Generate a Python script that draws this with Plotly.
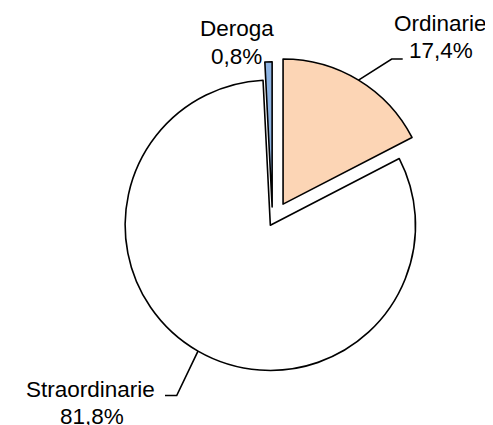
import math
import plotly.graph_objects as go

labels = ["Ordinarie", "Straordinarie", "Deroga"]
values = [17.4, 81.8, 0.8]
colors = ["#FCD5B5", "#FFFFFF", "#8EB4E3"]
pulls = [0.14, 0.03, 0.10]

# page body has an 8px margin: size the figure to fit the 493x425 window
OFF = 8
W, H = 493 - OFF, 425 - OFF
ML, MT, MR, MB = 99, 48, 55, 38
PW, PH = W - ML - MR, H - MT - MB


def px(x):  # screenshot pixel -> paper
    return (x - OFF - ML) / PW


def py(y):
    return 1 - (y - OFF - MT) / PH


fig = go.Figure(go.Pie(
    labels=labels, values=values, sort=False, direction="clockwise", rotation=0,
    pull=pulls, textinfo="none", hoverinfo="label+percent",
    marker=dict(colors=colors, line=dict(color="#000000", width=1.6)),
))

# pie geometry (as plotly computes it) for attaching leader lines to slice mid-arcs
R = min(PW, PH) / (2 * (1 + max(pulls)))
CX, CY = ML + PW / 2 + OFF, MT + PH / 2 + OFF
total = sum(values)
mid = {}
acc = 0
for lab, val, pl in zip(labels, values, pulls):
    ang = 2 * math.pi * (acc + val / 2) / total
    mid[lab] = (CX + R * (1 + pl) * math.sin(ang), CY - R * (1 + pl) * math.cos(ang))
    acc += val

# label line centres (screenshot pixels)
label_pos = {
    "Ordinarie": [(440, 23.5), (440.5, 50.5)],
    "Straordinarie": [(90.5, 389), (91.5, 416)],
    "Deroga": [(236.5, 29), (236, 56)],
}
leader_elbows = {
    "Ordinarie": [(402.7, 59), (391.7, 59)],
    "Straordinarie": [(165, 395.5), (176.7, 395.5)],
}

font = dict(family="Liberation Sans, Arial, sans-serif", size=22.5, color="#000000")
for lab, val in zip(labels, values):
    lines = [lab, f"{val:.1f}%".replace(".", ",")]
    for txt, (x, y) in zip(lines, label_pos[lab]):
        fig.add_annotation(x=px(x), y=py(y), xref="paper", yref="paper", text=txt,
                           showarrow=False, xanchor="center", yanchor="middle",
                           font=font)

for lab, pts in leader_elbows.items():
    pts = pts + [mid[lab]]
    path = "M " + " L ".join(f"{px(a):.4f},{py(b):.4f}" for a, b in pts)
    fig.add_shape(type="path", path=path, xref="paper", yref="paper",
                  line=dict(color="#000000", width=1.6))

fig.update_layout(
    width=W, height=H, showlegend=False,
    margin=dict(l=ML, t=MT, r=MR, b=MB),
    paper_bgcolor="#FFFFFF", plot_bgcolor="#FFFFFF",
)

fig.write_html("out.html")
